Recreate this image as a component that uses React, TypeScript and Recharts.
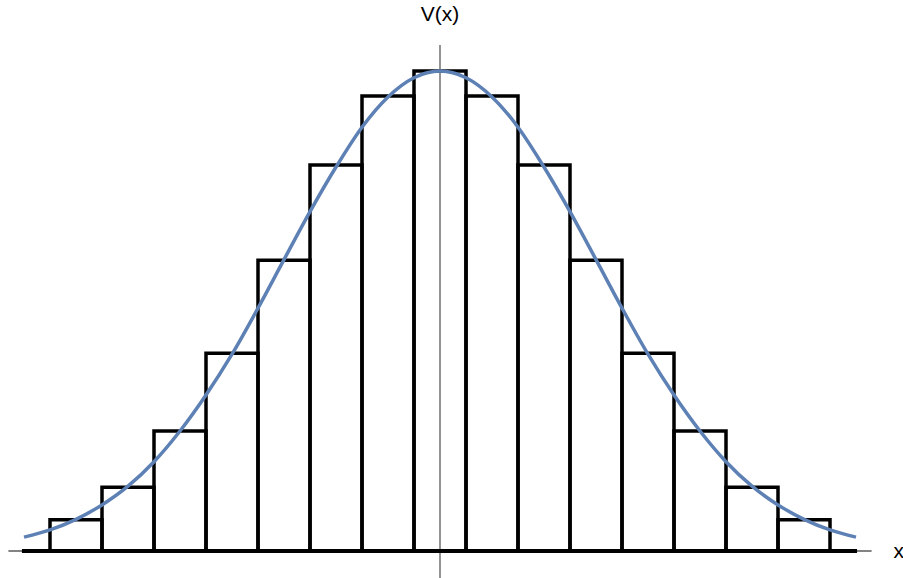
import React from 'react';
import { ComposedChart, Line, XAxis, YAxis, ReferenceArea, ReferenceLine } from 'recharts';

// histogram columns, one per integer x, unit width
const binCenters = [-7, -6, -5, -4, -3, -2, -1, 0, 1, 2, 3, 4, 5, 6, 7];
const binHeights = [0.065, 0.133, 0.25, 0.412, 0.606, 0.804, 0.948, 1.0, 0.948, 0.804, 0.606, 0.412, 0.25, 0.133, 0.065];

// smooth potential curve V(x)
const curveX = [-8, -7.5, -7, -6.5, -6, -5.5, -5, -4.5, -4, -3.5, -3, -2.5, -2, -1.5, -1, -0.5, 0, 0.5, 1, 1.5, 2, 2.5, 3, 3.5, 4, 4.5, 5, 5.5, 6, 6.5, 7, 7.5, 8];
const curveV = [0.029, 0.044, 0.066, 0.096, 0.135, 0.186, 0.25, 0.325, 0.41, 0.506, 0.607, 0.707, 0.8, 0.883, 0.946, 0.986, 1.0, 0.986, 0.946, 0.883, 0.8, 0.707, 0.607, 0.506, 0.41, 0.325, 0.25, 0.186, 0.135, 0.096, 0.066, 0.044, 0.029];

const data = curveX.map((x, i) => ({ x, v: curveV[i] }));

const X_DOMAIN: [number, number] = [-8.3, 8.3];
const Y_DOMAIN: [number, number] = [-0.05625, 1.0542];

const font = '"Liberation Sans", Arial, sans-serif';

export default function App() {
  return (
    <div style={{ position: 'absolute', left: 0, top: 0, width: 903, height: 578, background: '#fff' }}>
      <ComposedChart
        width={903}
        height={578}
        data={data}
        margin={{ top: 45, right: 31.4, bottom: 0, left: 8.4 }}
      >
        <XAxis dataKey="x" type="number" domain={X_DOMAIN} allowDataOverflow hide />
        <YAxis type="number" domain={Y_DOMAIN} allowDataOverflow hide />

        {/* axes */}
        <ReferenceLine
          y={0}
          stroke="#5a5a5a"
          strokeWidth={1.3}
          label={{ value: 'x', position: 'right', offset: 22, fill: '#000', fontSize: 21, fontFamily: font }}
        />
        <ReferenceLine
          x={0}
          stroke="#5a5a5a"
          strokeWidth={1.3}
          label={{ value: 'V(x)', position: 'top', offset: 24, fill: '#000', fontSize: 21, fontFamily: font }}
        />

        <Line
          dataKey="v"
          type="monotone"
          stroke="#5e81b5"
          strokeWidth={3.5}
          dot={false}
          activeDot={false}
          isAnimationActive={false}
        />

        {binCenters.map((c, i) => (
          <ReferenceArea
            key={c}
            x1={c - 0.5}
            x2={c + 0.5}
            y1={0}
            y2={binHeights[i]}
            fill="none"
            fillOpacity={0}
            stroke="#000"
            strokeWidth={3.5}
            ifOverflow="visible"
          />
        ))}

        {/* thick baseline under the columns */}
        <ReferenceLine
          segment={[{ x: -8.04, y: 0 }, { x: 8.02, y: 0 }]}
          stroke="#000"
          strokeWidth={4}
          ifOverflow="visible"
        />
      </ComposedChart>
    </div>
  );
}
